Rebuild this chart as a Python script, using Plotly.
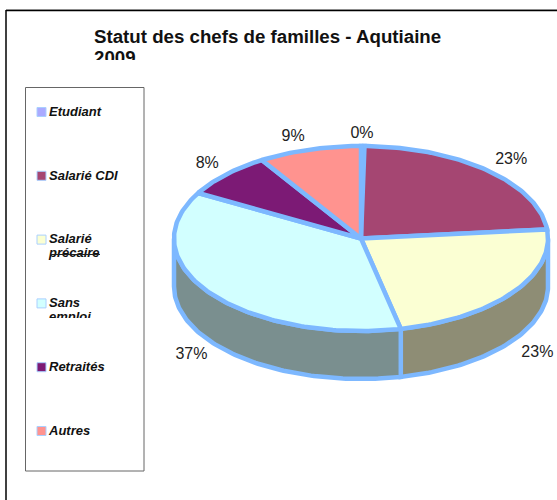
import math
import plotly.graph_objects as go

# --- data ---
categories = ["Etudiant", "Salarié CDI", "Salarié\nprécaire", "Sans\nemploi", "Retraités", "Autres"]
values = [0.3, 23.4, 23.4, 37, 8, 9]
title_lines = ["Statut des chefs de familles - Aqutiaine", "2009"]

# --- styles ---
top_colors = ["#AAAAFF", "#A54672", "#FBFFD3", "#D2FFFF", "#7C1A75", "#FF938F"]
side_colors = ["#66669A", "#632A44", "#8E8D75", "#7A8F8F", "#4A1046", "#995856"]
edge = "#7DB8FF"
swatch_edge = "#AAD0FF"
FONT = "Liberation Sans"

W, H = 557, 500
CX, CY, A, B, DEPTH = 361, 238.5, 187, 92.5, 48
EDGE_W = 4.5


def pt(theta, dy=0.0):
    r = math.radians(theta)
    return CX + A * math.sin(r), CY - B * math.cos(r) + dy


def arc(t0, t1, dy=0.0):
    n = max(2, int(abs(t1 - t0)) + 2)
    return [pt(t0 + (t1 - t0) * i / (n - 1), dy) for i in range(n)]


total = sum(values)
fig = go.Figure()

angles = []
acc = 0.0
for v in values:
    angles.append((acc, acc + v / total * 360))
    acc += v / total * 360

# side walls (front half only)
for (t0, t1), col in zip(angles, side_colors):
    a0, a1 = max(t0, 90), min(t1, 270)
    if a1 <= a0:
        continue
    poly = arc(a0, a1) + arc(a1, a0, DEPTH)
    poly.append(poly[0])
    fig.add_trace(go.Scatter(x=[p[0] for p in poly], y=[p[1] for p in poly], mode="lines",
                             fill="toself", fillcolor=col, line=dict(color=edge, width=EDGE_W),
                             hoverinfo="skip"))

# top wedges
for (t0, t1), col in zip(angles, top_colors):
    poly = [(CX, CY)] + arc(t0, t1) + [(CX, CY)]
    fig.add_trace(go.Scatter(x=[p[0] for p in poly], y=[p[1] for p in poly], mode="lines",
                             fill="toself", fillcolor=col, line=dict(color=edge, width=EDGE_W),
                             hoverinfo="skip"))

# percentage labels
K = 1.16
nudges = [(-1, 3), (3, 0), (1, 3), (5, 5), (3, 0), (-8, 2)]
lx, ly, lt = [], [], []
for v, (t0, t1), (ndx, ndy) in zip(values, angles, nudges):
    m = math.radians((t0 + t1) / 2)
    front = math.cos(m) < 0
    lx.append(CX + A * K * math.sin(m) + ndx)
    ly.append(CY - B * K * math.cos(m) + (DEPTH if front else 0) + ndy)
    lt.append(f"{v / total * 100:.0f}%")
fig.add_trace(go.Scatter(x=lx, y=ly, text=lt, mode="text", textposition="middle center",
                         textfont=dict(family=FONT, size=16, color="#222222"), hoverinfo="skip"))

# legend
LEG_X0, LEG_TOP, LEG_STEP = 41.5, 112, 63.8
sx, sy, tx, ty, tt = [], [], [], [], []
for i, c in enumerate(categories):
    y = LEG_TOP + i * LEG_STEP
    sx.append(LEG_X0)
    sy.append(y)
    for j, part in enumerate(c.split("\n")):
        tx.append(49)
        ty.append(y + 0.5 + j * 14)
        tt.append(part)
fig.add_trace(go.Scatter(x=sx, y=sy, mode="markers", hoverinfo="skip",
                         marker=dict(symbol="square", size=9, color=top_colors,
                                     line=dict(color=swatch_edge, width=1))))
fig.add_trace(go.Scatter(x=tx, y=ty, text=tt, mode="text", textposition="middle right", hoverinfo="skip",
                         textfont=dict(family=FONT, size=13, color="#111111", weight="bold", style="italic")))

# title
fig.add_trace(go.Scatter(x=[94, 94], y=[38, 59], text=title_lines, mode="text", textposition="middle right",
                         hoverinfo="skip",
                         textfont=dict(family=FONT, size=18.7, color="#111111", weight="bold")))

shapes = [
    dict(type="line", x0=6, x1=W, y0=9.5, y1=9.5, line=dict(color="#BBBBBB", width=1), layer="below"),
    dict(type="line", x0=6, x1=W, y0=10.5, y1=10.5, line=dict(color="#000000", width=1.5), layer="below"),
    dict(type="line", x0=6, x1=6, y0=10, y1=H, line=dict(color="#000000", width=1.5), layer="below"),
    dict(type="rect", x0=25.5, x1=144, y0=87.5, y1=471, line=dict(color="#666666", width=1), layer="below"),
    # clipped second lines of title and legend entry
    dict(type="rect", x0=90, x1=150, y0=60, y1=72, fillcolor="white", line=dict(width=0), layer="above"),
    dict(type="rect", x0=47, x1=120, y0=318, y1=330, fillcolor="white", line=dict(width=0), layer="above"),
    # strike across "précaire"
    dict(type="line", x0=50, x1=100, y0=254.5, y1=254.5, line=dict(color="#222222", width=1), layer="above"),
]

fig.update_layout(
    width=W, height=H, margin=dict(l=0, r=0, t=0, b=0), showlegend=False,
    paper_bgcolor="white", plot_bgcolor="white", shapes=shapes,
    xaxis=dict(range=[0, W], visible=False, fixedrange=True),
    yaxis=dict(range=[H, 0], visible=False, fixedrange=True),
)
fig.write_html("out.html", post_script="document.body.style.margin='0';document.body.style.overflow='hidden';",
               config=dict(displayModeBar=False))
